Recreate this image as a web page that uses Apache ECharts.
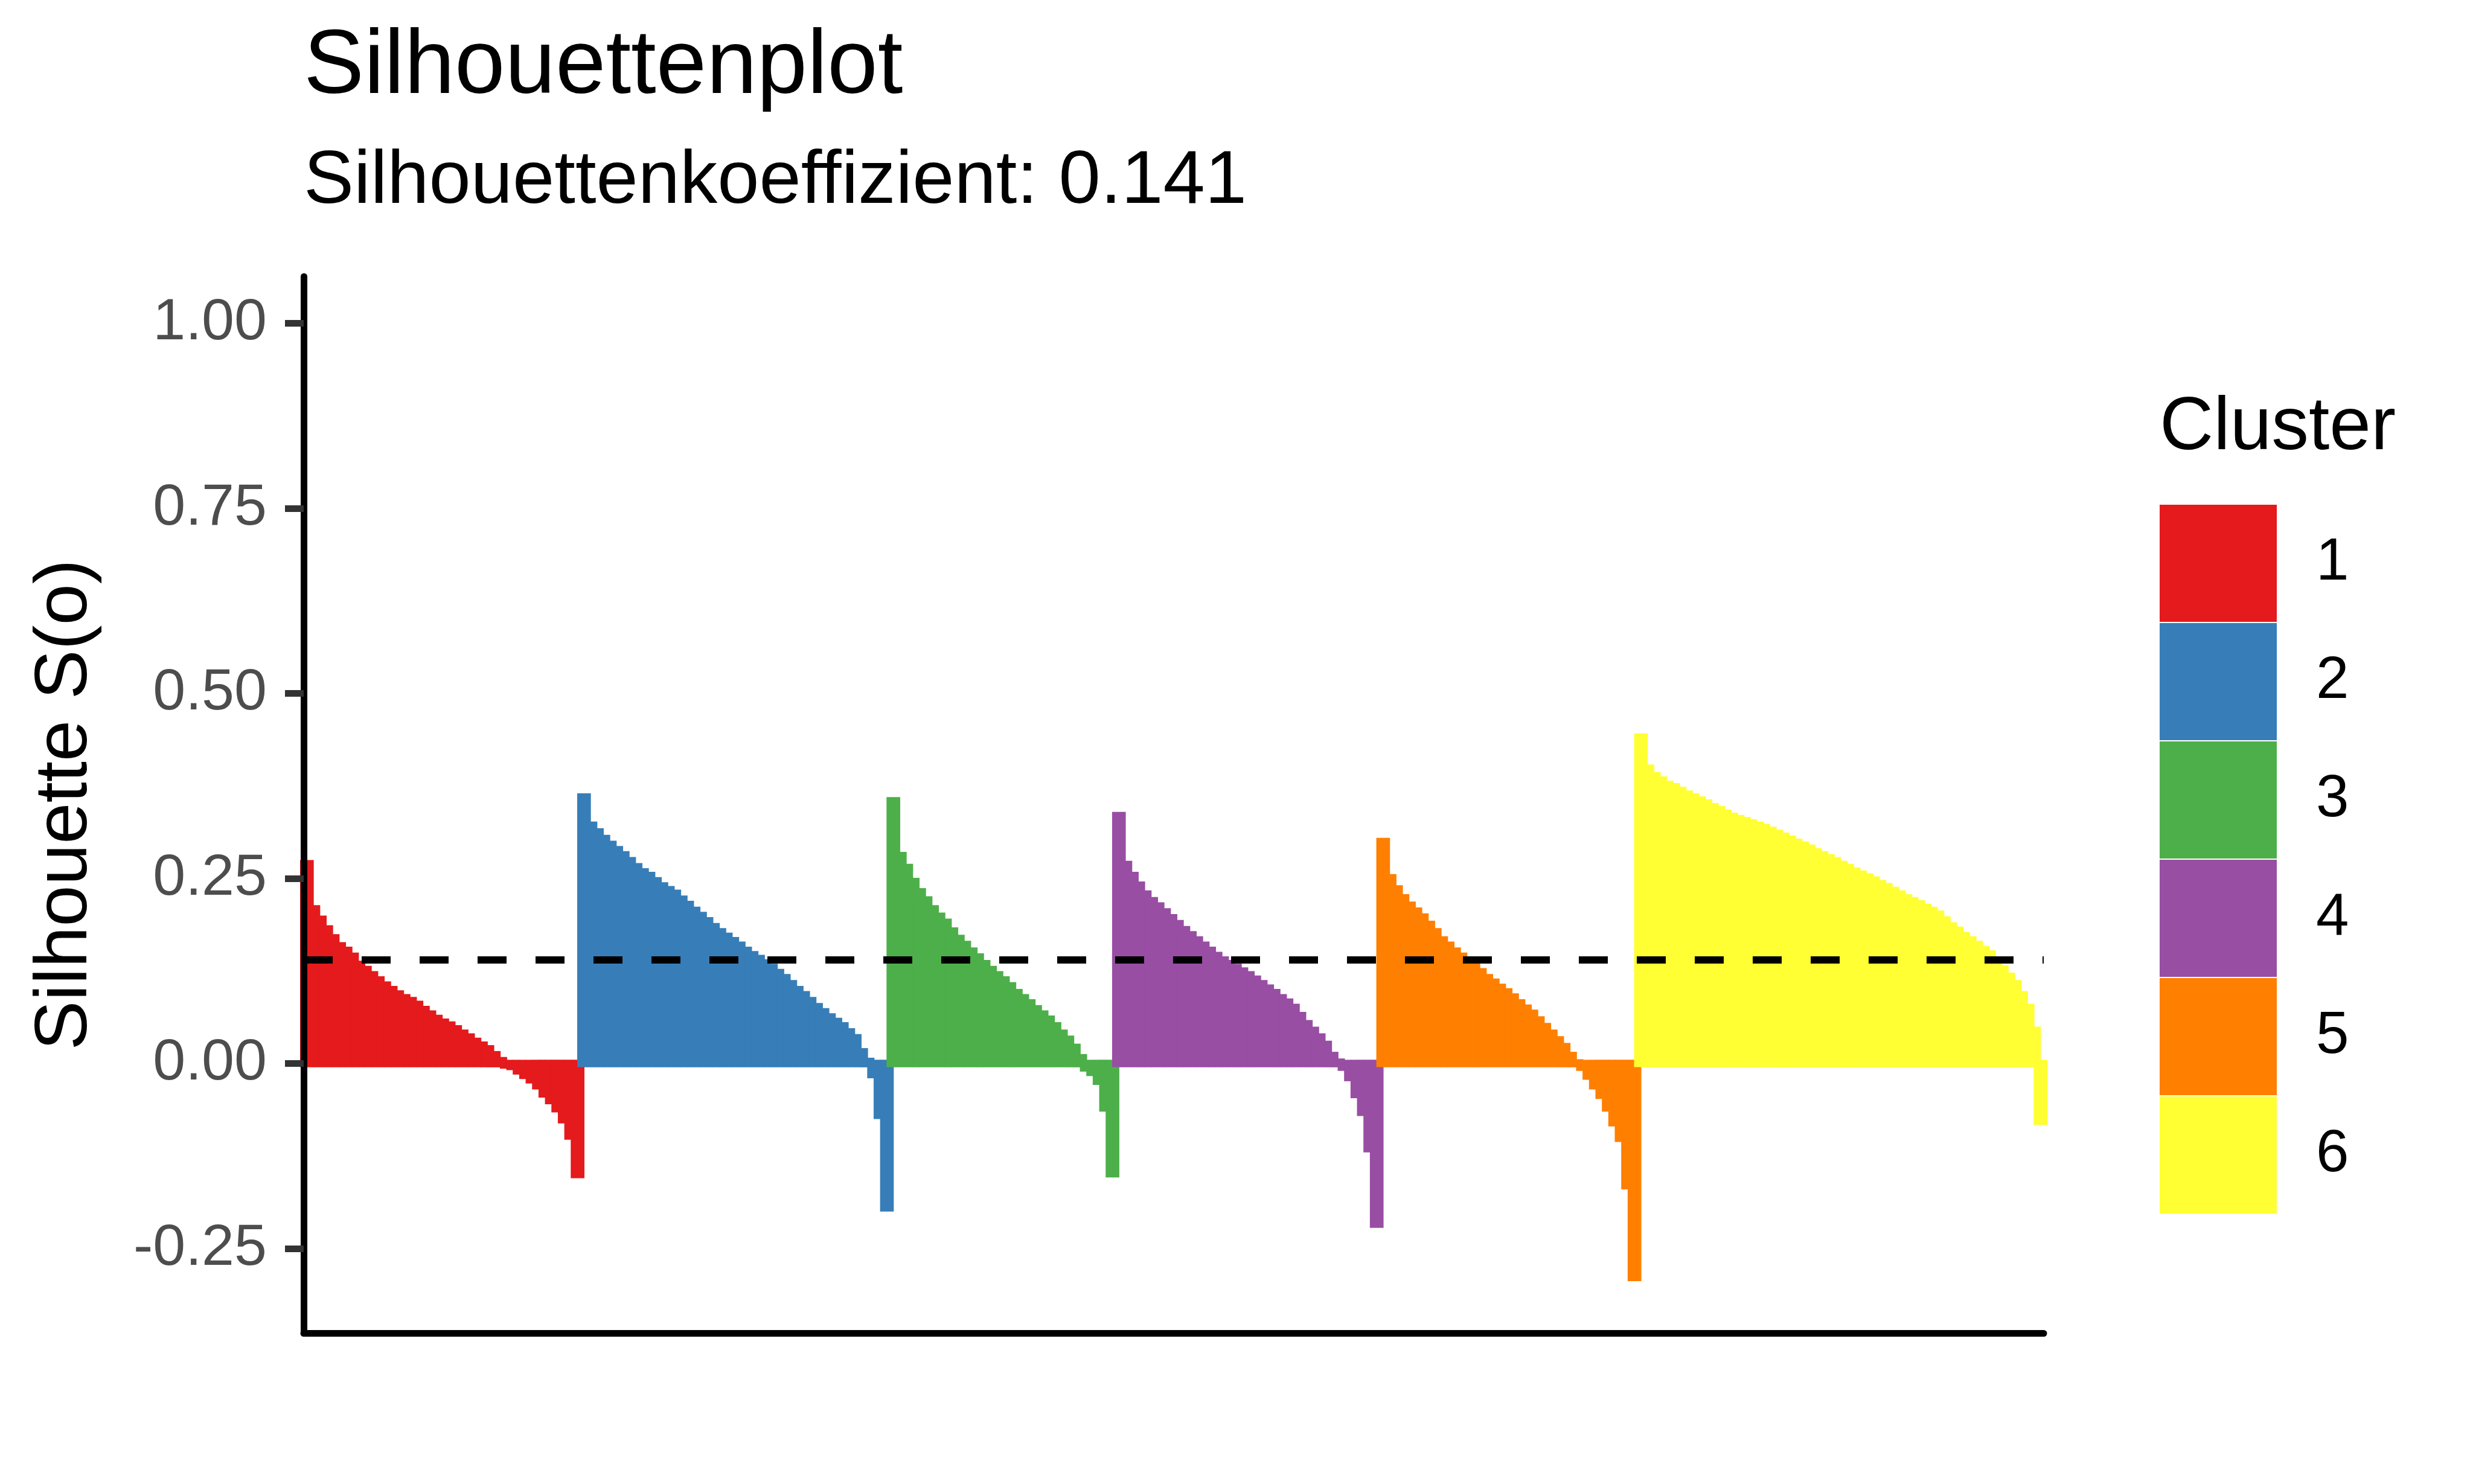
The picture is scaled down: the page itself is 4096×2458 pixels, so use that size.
<!DOCTYPE html>
<html>
<head>
<meta charset="utf-8">
<script src="https://cdn.jsdelivr.net/npm/echarts@6/dist/echarts.min.js"></script>
<style>
html,body{margin:0;padding:0;background:#ffffff;}
#chart{width:4096px;height:2458px;}
</style>
</head>
<body>
<div id="chart"></div>
<script>
// ---- data (silhouette widths, sorted within each cluster) ----
const clusterNames = ['1', '2', '3', '4', '5', '6'];
const clusterColors = ['#E41A1C', '#377EB8', '#4DAF4A', '#984EA3', '#FF7F00', '#FFFF33'];

const cluster1 = [0.270, 0.209, 0.195, 0.182, 0.170, 0.159, 0.153, 0.145, 0.134, 0.127,
  0.120, 0.113, 0.106, 0.100, 0.094, 0.089, 0.085, 0.080, 0.073, 0.067,
  0.061, 0.056, 0.052, 0.047, 0.041, 0.036, 0.030, 0.025, 0.020, 0.012,
  0.004, -0.002, -0.004, -0.010, -0.016, -0.022, -0.030, -0.041, -0.050, -0.061,
  -0.076, -0.098, -0.150];
const cluster2 = [0.360, 0.322, 0.313, 0.304, 0.296, 0.289, 0.282, 0.274, 0.266, 0.259,
  0.254, 0.247, 0.240, 0.235, 0.230, 0.222, 0.215, 0.207, 0.200, 0.193,
  0.185, 0.178, 0.172, 0.166, 0.160, 0.153, 0.147, 0.142, 0.136, 0.130,
  0.123, 0.116, 0.108, 0.100, 0.093, 0.085, 0.077, 0.070, 0.063, 0.057,
  0.051, 0.043, 0.035, 0.016, 0.003, -0.015, -0.070, -0.195];
const cluster3 = [0.355, 0.281, 0.265, 0.246, 0.232, 0.221, 0.209, 0.199, 0.191, 0.179,
  0.169, 0.161, 0.152, 0.144, 0.135, 0.127, 0.120, 0.113, 0.105, 0.096,
  0.089, 0.082, 0.074, 0.067, 0.060, 0.051, 0.041, 0.033, 0.022, 0.008,
  -0.006, -0.012, -0.024, -0.060, -0.149];
const cluster4 = [0.335, 0.269, 0.254, 0.241, 0.229, 0.220, 0.213, 0.205, 0.197, 0.189,
  0.181, 0.174, 0.167, 0.160, 0.153, 0.146, 0.140, 0.135, 0.130, 0.125,
  0.120, 0.114, 0.108, 0.102, 0.096, 0.089, 0.083, 0.076, 0.065, 0.054,
  0.045, 0.036, 0.026, 0.011, 0.002, -0.005, -0.019, -0.042, -0.066, -0.115,
  -0.217];
const cluster5 = [0.300, 0.251, 0.236, 0.224, 0.214, 0.206, 0.198, 0.188, 0.178, 0.167,
  0.160, 0.152, 0.145, 0.139, 0.132, 0.124, 0.116, 0.110, 0.103, 0.097,
  0.090, 0.082, 0.075, 0.068, 0.059, 0.050, 0.041, 0.032, 0.023, 0.011,
  0.001, -0.005, -0.017, -0.030, -0.043, -0.060, -0.080, -0.101, -0.165, -0.289];
const cluster6 = [0.441, 0.399, 0.389, 0.383, 0.377, 0.374, 0.369, 0.364, 0.360, 0.356,
  0.352, 0.347, 0.343, 0.338, 0.334, 0.331, 0.328, 0.325, 0.322, 0.319,
  0.315, 0.311, 0.307, 0.303, 0.299, 0.295, 0.291, 0.286, 0.282, 0.278,
  0.274, 0.269, 0.265, 0.260, 0.256, 0.252, 0.248, 0.243, 0.239, 0.234,
  0.229, 0.224, 0.220, 0.216, 0.211, 0.207, 0.202, 0.194, 0.186, 0.180,
  0.173, 0.167, 0.161, 0.154, 0.148, 0.139, 0.128, 0.118, 0.108, 0.093,
  0.076, 0.045, -0.078];

const silhouetteMean = 0.141;
const yTickValues = [-0.25, 0, 0.25, 0.5, 0.75, 1.0];
const yMin = -0.364;
const yMax = 1.063;

const titleText = 'Silhouettenplot';
const subtitleText = 'Silhouettenkoeffizient: 0.141';
const yAxisTitle = 'Silhouette S(o)';
const legendTitle = 'Cluster';

// ---- build options ----
const FONT = '"Liberation Sans", Arial, Helvetica, sans-serif';
const OUTLINE = 6; // bar outline (same colour as fill), as in the reference
const clusters = [cluster1, cluster2, cluster3, cluster4, cluster5, cluster6];
const categories = [];
const offsets = [];
clusters.forEach(function (vals) {
  offsets.push(categories.length);
  vals.forEach(function () { categories.push(String(categories.length + 1)); });
});

function makeRenderItem(color) {
  return function (params, api) {
    const idx = api.value(0);
    const v = api.value(1);
    const p0 = api.coord([idx, 0]);
    const p1 = api.coord([idx, v]);
    const w = api.size([1, 0])[0];
    const top = Math.min(p0[1], p1[1]) - OUTLINE;
    const bot = Math.max(p0[1], p1[1]) + OUTLINE;
    return {
      type: 'rect',
      shape: { x: p0[0] - w / 2 - OUTLINE, y: top, width: w + 2 * OUTLINE, height: bot - top },
      style: { fill: color }
    };
  };
}

const series = clusters.map(function (vals, k) {
  const data = vals.map(function (v, j) { return [offsets[k] + j, v]; });
  const s = {
    name: clusterNames[k],
    type: 'custom',
    renderItem: makeRenderItem(clusterColors[k]),
    data: data,
    encode: { x: 0, y: 1 },
    itemStyle: { color: clusterColors[k] },
    silent: true
  };
  if (k === clusters.length - 1) {
    s.markLine = {
      silent: true,
      symbol: ['none', 'none'],
      label: { show: false },
      z: 20,
      lineStyle: { color: '#000000', width: 12, type: [48, 48], dashOffset: 0, cap: 'butt' },
      emphasis: { disabled: true },
      data: [{ yAxis: silhouetteMean }]
    };
  }
  return s;
});

const chart = echarts.init(document.getElementById('chart'), null, { renderer: 'canvas' });
chart.setOption({
  animation: false,
  backgroundColor: '#ffffff',
  grid: { left: 503, right: 711, top: 458, bottom: 250, containLabel: false },
  xAxis: {
    type: 'category',
    data: categories,
    boundaryGap: true,
    axisLine: { show: true, onZero: false, lineStyle: { color: '#000000', width: 11 } },
    axisTick: { show: false },
    axisLabel: { show: false },
    splitLine: { show: false }
  },
  yAxis: {
    type: 'value',
    min: yMin,
    max: yMax,
    z: 10,
    axisLine: { show: true, lineStyle: { color: '#000000', width: 11 } },
    axisTick: { show: true, customValues: yTickValues, length: 31, lineStyle: { color: '#333333', width: 11 } },
    axisLabel: {
      show: true, customValues: yTickValues, margin: 61,
      formatter: function (v) { return Number(v).toFixed(2); },
      fontSize: 97, color: '#4D4D4D', fontFamily: FONT
    },
    splitLine: { show: false }
  },
  legend: {
    orient: 'vertical',
    left: 3577,
    top: 836,
    padding: 0,
    itemWidth: 194,
    itemHeight: 194,
    itemGap: 2,
    icon: 'rect',
    selectedMode: false,
    itemStyle: { borderWidth: 0 },
    textStyle: { fontSize: 98, color: '#000000', fontFamily: FONT, padding: [0, 0, 0, 60] },
    data: clusterNames
  },
  graphic: [
    { type: 'text', x: 503, y: 113, silent: true,
      style: { text: titleText, font: '150px ' + FONT, fill: '#000000', align: 'left', verticalAlign: 'middle' } },
    { type: 'text', x: 503, y: 302, silent: true,
      style: { text: subtitleText, font: '124.5px ' + FONT, fill: '#000000', align: 'left', verticalAlign: 'middle' } },
    { type: 'text', x: 109, y: 1333, rotation: Math.PI / 2, silent: true,
      style: { text: yAxisTitle, font: '123px ' + FONT, fill: '#000000', align: 'center', verticalAlign: 'middle' } },
    { type: 'text', x: 3577, y: 710, silent: true,
      style: { text: legendTitle, font: '123.5px ' + FONT, fill: '#000000', align: 'left', verticalAlign: 'middle' } }
  ],
  series: series
});
</script>
</body>
</html>
